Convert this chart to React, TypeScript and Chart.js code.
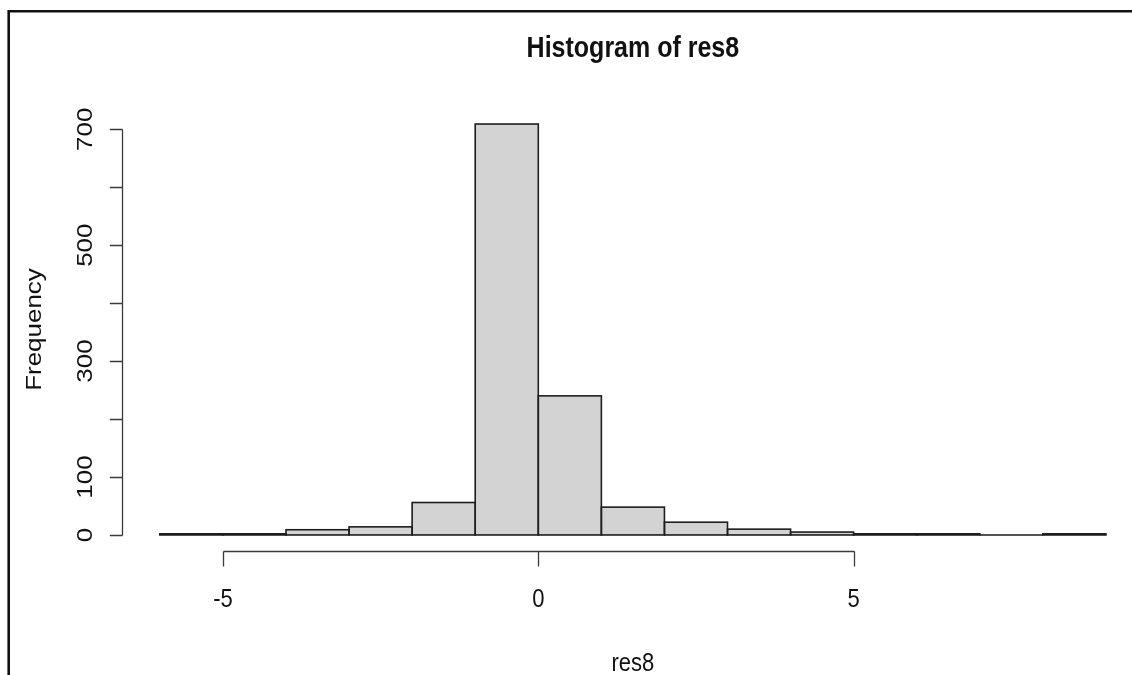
import React, { useEffect, useRef } from "react";
import { Chart, registerables } from "chart.js";

Chart.register(...registerables);

// ---- data ----
const binStarts = [-6, -5, -4, -3, -2, -1, 0, 1, 2, 3, 4, 5, 6, 7, 8];
const counts = [2, 2, 9, 14, 56, 709, 240, 48, 22, 10, 5, 2, 2, 0, 2];
const BIN_WIDTH = 1;
const xTickLabels = [-5, 0, 5];
const yTickLabels = [0, 100, 300, 500, 700];
const titleText = "Histogram of res8";
const xTitleText = "res8";
const yTitleText = "Frequency";

// R-style axis limits (data range extended by 4%)
const X_MIN = -6.6;
const X_MAX = 9.6;
const Y_MIN = -28.36;
const Y_MAX = 737.36;

const STRETCH = 1.18;
const FONT = "'Liberation Sans', Arial, Helvetica, sans-serif";
const INK = "#111111";
const AXIS = "#3a3a3a";

function drawText(
  ctx: CanvasRenderingContext2D,
  text: string,
  x: number,
  y: number,
  font: string,
  rotate: number,
  sx: number,
  sy: number,
  align: CanvasTextAlign = "center"
) {
  ctx.save();
  ctx.translate(x, y);
  if (rotate) ctx.rotate(rotate);
  ctx.scale(sx, sy);
  ctx.font = font;
  ctx.textAlign = align;
  ctx.textBaseline = "alphabetic";
  ctx.fillStyle = INK;
  ctx.fillText(text, 0, 0);
  ctx.restore();
}

const rPlugin = {
  id: "rHistStyle",
  beforeDraw(chart: any) {
    const ctx = chart.ctx as CanvasRenderingContext2D;
    ctx.save();
    ctx.fillStyle = "#ffffff";
    ctx.fillRect(0, 0, chart.width, chart.height);
    ctx.restore();
  },
  afterDatasetsDraw(chart: any) {
    const ctx = chart.ctx as CanvasRenderingContext2D;
    const meta = chart.getDatasetMeta(0);
    ctx.save();
    ctx.strokeStyle = "#1e1e1e";
    ctx.lineWidth = 1.6;
    meta.data.forEach((el: any) => {
      const left = el.x - el.width / 2;
      const top = Math.min(el.y, el.base);
      const h = Math.abs(el.base - el.y);
      ctx.strokeRect(left, top, el.width, h);
    });
    ctx.restore();
  },
  afterDraw(chart: any) {
    const ctx = chart.ctx as CanvasRenderingContext2D;
    const area = chart.chartArea;
    const xs = chart.scales.x;
    const ys = chart.scales.y;

    ctx.save();
    ctx.strokeStyle = AXIS;
    ctx.lineWidth = 1.3;

    // x axis (R style: line spans first..last tick)
    const xTicks: number[] = xs.ticks.map((t: any) => t.value);
    const yAxisRow = Math.floor(area.bottom) + 0.5;
    ctx.beginPath();
    ctx.moveTo(Math.round(xs.getPixelForValue(xTicks[0])) + 0.5, yAxisRow);
    ctx.lineTo(Math.round(xs.getPixelForValue(xTicks[xTicks.length - 1])) + 0.5, yAxisRow);
    xTicks.forEach((v) => {
      const px = Math.round(xs.getPixelForValue(v)) + 0.5;
      ctx.moveTo(px, yAxisRow);
      ctx.lineTo(px, yAxisRow + 15);
    });
    ctx.stroke();

    // y axis
    const yTicks: number[] = ys.ticks.map((t: any) => t.value);
    const xAxisCol = Math.floor(area.left) + 0.5;
    ctx.beginPath();
    ctx.moveTo(xAxisCol, Math.round(ys.getPixelForValue(yTicks[0])) + 0.5);
    ctx.lineTo(xAxisCol, Math.round(ys.getPixelForValue(yTicks[yTicks.length - 1])) + 0.5);
    yTicks.forEach((v) => {
      const py = Math.round(ys.getPixelForValue(v)) + 0.5;
      ctx.moveTo(xAxisCol, py);
      ctx.lineTo(xAxisCol - 12.7, py);
    });
    ctx.stroke();
    ctx.restore();

    const tickFont = `22px ${FONT}`;
    xTickLabels.forEach((v) => {
      drawText(ctx, String(v), xs.getPixelForValue(v), area.bottom + 56, tickFont, 0, 1, STRETCH);
    });
    yTickLabels.forEach((v) => {
      drawText(ctx, String(v), area.left - 30.5, ys.getPixelForValue(v), tickFont, -Math.PI / 2, STRETCH, 1);
    });

    const cx = (area.left + area.right) / 2;
    const cy = (area.top + area.bottom) / 2;
    drawText(ctx, titleText, cx, area.top - 51, `bold 25px ${FONT}`, 0, 1, STRETCH);
    drawText(ctx, xTitleText, cx, area.bottom + 120, `22px ${FONT}`, 0, 1, STRETCH);
    drawText(ctx, yTitleText, 41, cy, `22px ${FONT}`, -Math.PI / 2, STRETCH, 1);

    // outer frame (left + top edges)
    ctx.save();
    ctx.strokeStyle = "#111111";
    ctx.lineWidth = 2.6;
    ctx.beginPath();
    ctx.moveTo(8.7, chart.height + 2);
    ctx.lineTo(8.7, 11.2);
    ctx.lineTo(chart.width + 2, 11.2);
    ctx.stroke();
    ctx.restore();
  },
};

export default function App() {
  const ref = useRef<HTMLCanvasElement>(null);

  useEffect(() => {
    const canvas = ref.current;
    if (!canvas) return;
    const chart = new Chart(canvas, {
      type: "bar",
      data: {
        datasets: [
          {
            label: yTitleText,
            data: binStarts.map((s, i) => ({ x: s + BIN_WIDTH / 2, y: counts[i] })),
            backgroundColor: "#D3D3D3",
            borderWidth: 0,
            barPercentage: 1,
            categoryPercentage: 1,
          },
        ],
      },
      options: {
        responsive: false,
        animation: false,
        events: [],
        layout: { padding: { left: 122, right: 6.2, top: 107.6, bottom: 123.6 } },
        plugins: {
          legend: { display: false },
          title: { display: false },
          tooltip: { enabled: false },
        },
        scales: {
          x: {
            type: "linear",
            display: false,
            offset: false,
            min: X_MIN,
            max: X_MAX,
            grid: { offset: false },
            ticks: { stepSize: 5, includeBounds: false },
          },
          y: {
            type: "linear",
            display: false,
            min: Y_MIN,
            max: Y_MAX,
            ticks: { stepSize: 100, includeBounds: false },
          },
        },
      },
      plugins: [rPlugin],
    } as any);
    return () => chart.destroy();
  }, []);

  return (
    <div
      style={{
        position: "fixed",
        left: 0,
        top: 0,
        width: 1132,
        height: 675,
        overflow: "hidden",
        background: "#ffffff",
      }}
    >
      <canvas ref={ref} width={1150} height={675} style={{ display: "block", width: 1150, height: 675 }} />
    </div>
  );
}
